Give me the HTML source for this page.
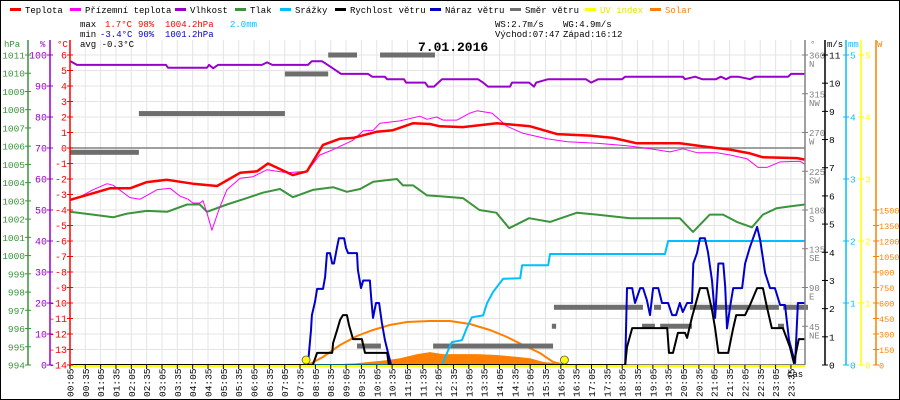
<!DOCTYPE html>
<html><head><meta charset="utf-8"><style>
html,body{margin:0;padding:0;background:#fff;}
svg{display:block;font-family:"Liberation Mono",monospace;}
</style></head><body>
<svg id="chart" width="900" height="400" viewBox="0 0 900 400" xmlns="http://www.w3.org/2000/svg">
<rect x="0.5" y="0.5" width="899" height="399" fill="#fff" stroke="#000"/>
<g id="grid"></g>
<g id="series"></g>
<g id="axes"></g>
<g id="legend" font-size="9"></g>
<g font-size="9">
<text x="80" y="27" fill="#000">max</text><text x="105" y="27" fill="#f00">1.7°C</text><text x="138" y="27" fill="#f00">98%</text><text x="165" y="27" fill="#f00">1004.2hPa</text><text x="230" y="27" fill="#00bfff">2.0mm</text>
<text x="80" y="37" fill="#000">min</text><text x="100" y="37" fill="#00c">-3.4°C</text><text x="138" y="37" fill="#00c">90%</text><text x="165" y="37" fill="#00c">1001.2hPa</text>
<text x="80" y="47" fill="#000">avg -0.3°C</text>
<text x="495" y="27" fill="#000">WS:2.7m/s</text><text x="563" y="27" fill="#000">WG:4.9m/s</text>
<text x="495" y="37" fill="#000">Východ:07:47</text><text x="563" y="37" fill="#000">Západ:16:12</text>
</g>
<text x="418" y="51" font-size="13" font-weight="bold" fill="#000">7.01.2016</text>
</svg>
<script>
// ---- data ----
const tempT=[0.08,1.39,2.04,2.59,3.25,4.09,4.88,5.63,6.18,6.54,7.35,7.81,8.33,8.89,9.31,10.09,10.61,11.27,11.82,12.14,12.89,14.0,15.08,15.96,17.03,17.78,18.56,19.96,20.72,21.6,22.25,22.67,23.78,24.04];
const tempV=[-3.35,-2.6,-2.6,-2.2,-2.05,-2.3,-2.45,-1.6,-1.5,-1.0,-1.75,-1.5,0.2,0.6,0.65,1.05,1.15,1.6,1.55,1.4,1.35,1.6,1.4,0.9,0.8,0.65,0.3,0.3,0.1,-0.1,-0.35,-0.6,-0.65,-0.75];
const appT=[0.08,0.41,0.83,1.29,1.49,2.04,2.37,2.92,3.35,3.67,3.93,4.09,4.32,4.42,4.55,4.71,4.97,5.2,5.63,6.05,6.51,7.16,7.81,8.23,8.66,9.31,9.64,9.97,10.19,10.84,11.49,11.72,12.04,12.24,12.7,13.12,13.35,13.84,14.33,14.85,15.63,16.29,17.26,18.24,18.99,19.64,20.06,20.52,21.17,21.6,22.15,22.51,22.8,23.23,23.88,24.04];
const appV=[-3.35,-3.15,-2.7,-2.3,-2.4,-3.2,-3.3,-2.7,-2.6,-3.1,-3.3,-3.55,-3.55,-3.4,-4.2,-5.3,-3.8,-2.7,-1.95,-1.85,-1.4,-1.6,-1.5,-0.45,-0.1,0.5,1.1,1.15,1.6,1.75,2.05,1.85,2.0,1.8,1.8,2.25,2.4,2.25,1.4,0.95,0.6,0.4,0.3,0.15,-0.05,-0.25,-0.05,-0.3,-0.3,-0.45,-0.7,-1.25,-1.25,-0.9,-0.85,-1.05];
const presT=[0.08,0.83,1.49,1.94,2.59,3.25,3.9,4.32,4.55,5.2,5.85,6.37,6.93,7.35,8.0,8.66,9.11,9.54,9.97,10.74,10.94,11.27,11.72,12.14,12.89,13.43,13.98,14.4,15.05,15.73,16.61,17.26,18.34,19.96,20.39,20.94,21.37,21.82,22.31,22.67,23.12,23.55,24.04];
const presV=[1002.4,1002.25,1002.1,1002.3,1002.45,1002.4,1002.8,1002.8,1002.4,1002.8,1003.15,1003.45,1003.65,1003.2,1003.6,1003.75,1003.5,1003.65,1004.05,1004.2,1003.85,1003.85,1003.3,1003.25,1003.15,1002.5,1002.35,1001.5,1002.05,1001.85,1002.35,1002.25,1002.05,1002.05,1001.3,1002.25,1002.25,1001.85,1001.55,1002.25,1002.6,1002.7,1002.8];
const humT=[0.1,0.31,3.21,3.28,4.55,4.62,4.75,4.91,6.34,6.51,6.68,7.84,7.97,8.3,8.62,8.92,9.8,9.93,10.35,10.42,10.97,11.04,11.66,11.75,11.95,12.21,13.38,13.55,13.71,14.43,14.49,15.05,15.21,15.28,15.67,16.9,17.07,17.3,18.08,18.18,20.06,20.13,20.46,20.69,21.14,21.3,21.47,21.63,21.86,22.25,22.42,23.49,23.59,24.04];
const humV=[98,96.8,96.8,95.9,95.9,96.8,95.7,96.8,96.8,97.6,96.8,96.8,98,98,95.9,93.9,93.9,93,93,92.2,92.2,91.1,91.1,89.8,89.8,92.2,92.2,91.1,89.8,89.8,91.1,91.1,89.8,91.1,92.2,92.2,91.1,92.2,92.2,93,93,92.2,93,92.2,92.2,93,92.2,93,93,92.2,93,93,93.9,93.9];
const gustT=[0.08,7.84,7.94,7.97,8.07,8.14,8.33,8.4,8.46,8.56,8.63,8.69,8.79,8.85,9.02,9.08,9.15,9.44,9.47,9.57,9.64,9.86,9.9,9.96,10.06,10.16,10.25,10.35,10.45,10.55,18.18,18.24,18.41,18.5,18.67,18.76,18.89,18.99,19.09,19.26,19.38,19.58,19.71,19.84,19.96,20.06,20.2,20.36,20.4,20.52,20.62,20.78,20.88,21.01,21.11,21.22,21.38,21.44,21.5,21.6,21.7,21.99,22.09,22.25,22.48,22.58,22.74,22.9,23.06,23.23,23.39,23.52,23.72,23.81,24.04];
const gustV=[0,0,1.24,1.77,2.24,2.7,2.7,3.12,3.97,3.97,3.6,3.6,4.19,4.5,4.5,4.15,3.97,3.97,3.37,2.73,3.0,3.0,2.41,1.67,2.2,2.2,1.49,0.89,0.44,0,0,2.73,2.73,2.2,2.73,2.73,2.3,1.77,2.73,2.73,2.2,2.2,1.77,1.77,2.2,1.88,2.2,2.2,3.6,3.97,4.5,4.5,4.0,3.0,1.67,3.6,3.6,2.77,1.3,2.06,2.73,2.73,3.6,4.19,4.9,4.43,3.27,2.73,2.73,2.13,2.13,0.89,0.07,2.2,2.2];
const windT=[0.08,8.0,8.14,8.63,8.66,8.79,8.89,8.98,9.11,9.18,9.31,9.6,9.7,10.42,10.48,18.18,18.24,18.41,19.55,19.61,19.74,19.9,20.13,20.2,20.36,20.62,20.85,21.01,21.11,21.22,21.54,21.7,21.8,22.09,22.25,22.48,22.67,22.8,22.96,23.32,23.55,23.68,23.84,24.04];
const windV=[0,0,0.43,0.43,0.78,1.24,1.6,1.77,1.77,1.42,0.92,0.92,0.43,0.43,0,0,0.64,1.31,1.31,0.43,0.43,1.14,1.14,0.96,1.7,2.73,2.73,1.95,1.31,0.43,0.43,1.31,1.77,1.77,2.13,2.73,2.73,2.06,1.31,1.31,0.64,0.07,0.92,0.92];
const rainT=[0.08,12.21,12.37,12.53,12.86,13.02,13.18,13.55,13.68,13.88,14.2,14.76,14.82,15.67,15.73,19.48,19.58,24.04];
const rainV=[0,0,0.19,0.37,0.4,0.6,0.77,0.8,1.0,1.18,1.39,1.4,1.61,1.61,1.79,1.79,2.0,2.0];
const solarT=[7.75,8.23,8.89,9.37,9.86,10.35,10.84,11.4,11.82,12.24,12.89,13.35,14.0,14.65,15.08,15.5,15.83,16.05];
const solarV=[0,5,10,15,30,45,65,105,125,105,105,105,97,78,65,30,20,0];
const clearT=[7.84,8.33,8.89,9.44,9.96,10.51,11.07,11.82,12.47,13.12,13.77,14.33,14.85,15.4,15.83,16.22];
const clearV=[0,77,194,281,339,387,416,426,426,397,339,271,194,116,29,0];
const dirStart=[0.08,2.33,7.09,8.5,9.44,10.19,11.92,15.79,15.86,18.73,19.12,19.32,20.29,23.16,23.33];
const dirEnd=[2.33,7.09,8.5,9.44,10.22,11.98,15.83,15.93,18.76,19.15,19.35,20.36,23.19,23.36,24.14];
const dirV=[247,292,338,360,22,360,22,45,67,45,67,45,67,45,67];
const sunEvents=[7.78,16.2];
const timeLabels=[];for(let i=0;i<48;i++){const m=5+30*i;timeLabels.push(String(Math.floor(m/60)).padStart(2,'0')+':'+String(m%60).padStart(2,'0'));}
const hpaTicks=[994,995,996,997,998,999,1000,1001,1002,1003,1004,1005,1006,1007,1008,1009,1010,1011];
const pctTicks=[0,10,20,30,40,50,60,70,80,90,100];
const tempTicks=[-14,-13,-12,-11,-10,-9,-8,-7,-6,-5,-4,-3,-2,-1,0,1,2,3,4,5,6];
const dirTicks=[45,90,135,180,225,270,315,360];
const dirNames=['NE','E','SE','S','SW','W','NW','N'];
const msTicks=[0,1,2,3,4,5,6,7,8,9,10,11];
const mmTicks=[0,1,2,3,4,5];
const wTicks=[0,150,300,450,600,750,900,1050,1200,1350,1500];

// ---- scales ----
const X0=70,X1=805,YT=55,YB=365;
const xs=h=>67.4+h*30.68;
const yT=v=>YB-(v+14)*(YB-YT)/20;
const yP=v=>YB-(v-994)*(YB-YT)/17;
const yH=v=>YB-v*(YB-YT)/100;
const yW=v=>YB-v*(YB-YT)/11;
const yR=v=>YB-v*(YB-YT)/5;
const yS=v=>YB-v*155/1500;
const yD=v=>YB-v*(YB-YT)/360;
const NS='http://www.w3.org/2000/svg';
function mk(tag,attrs,parent,txt){const e=document.createElementNS(NS,tag);for(const k in attrs)e.setAttribute(k,attrs[k]);if(txt!==undefined)e.textContent=txt;parent.appendChild(e);return e;}
const G=document.getElementById('grid'),S=document.getElementById('series'),A=document.getElementById('axes'),L=document.getElementById('legend');

timeLabels.forEach((t,i)=>{const x=xs((5+30*i)/60);const l=mk('line',{x1:x,x2:x,y1:40,y2:YB,stroke:'#e4e4e4'},G);

});
tempTicks.forEach(v=>{const y=yT(v);const l=mk('line',{x1:X0,x2:X1,y1:y,y2:y,stroke:'#e4e4e4'},G);

});
const zl=mk('line',{x1:X0,x2:X1,y1:yT(0),y2:yT(0),stroke:'#808080','stroke-width':1.5},G);



function pts(T,V,yf){return T.map((t,i)=>xs(t).toFixed(1)+','+yf(V[i]).toFixed(1)).join(' ');}
const sa=mk('polygon',{points:pts(solarT,solarV,yS),fill:'#ff8000'},S);


const cs=mk('polyline',{points:pts(clearT,clearV,yS),fill:'none',stroke:'#ff8000','stroke-width':2},S);


dirV.forEach((d,i)=>{const r=mk('rect',{x:xs(dirStart[i]),y:yD(d)-2.5,width:xs(dirEnd[i])-xs(dirStart[i]),height:5,fill:'#6e6e6e'},S);

});
function line(T,V,yf,color,w,name){const p=mk('polyline',{points:pts(T,V,yf),fill:'none',stroke:color,'stroke-width':w,'stroke-linejoin':'round'},S);

}
line(rainT,rainV,yR,'#00bfff',2,'precipitation-line');
line(humT,humV,yH,'#9900cc',2,'humidity-line');
line(presT,presV,yP,'#3a943a',2,'pressure-line');
line(appT,appV,yT,'#ff00ff',1,'apparent-temperature-line');
line(tempT,tempV,yT,'#ff0000',2.5,'temperature-line');
line(gustT,gustV,yW,'#0000cc',2,'wind-gust-line');
line(windT,windV,yW,'#000000',2,'wind-speed-line');
const bl=mk('line',{x1:X0,x2:X1,y1:YB,y2:YB,stroke:'#000','stroke-width':1},S);


const uv=mk('line',{x1:X0,x2:X1,y1:YB+1,y2:YB+1,stroke:'#ffff00','stroke-width':2},S);


sunEvents.forEach(h=>{const c=mk('circle',{cx:xs(h),cy:YB-5,r:4,fill:'#ffff00',stroke:'#555','stroke-width':0.8},S);

});

function vaxis(x,color,name,ticks,yf,lab,side,hdr,hx,fs){
 const a=mk('line',{x1:x,x2:x,y1:40,y2:YB,stroke:color,'stroke-width':1.5},A);
 
 
 ticks.forEach((v,i)=>{const y=yf(v);mk('line',{x1:x-3,x2:x+3,y1:y,y2:y,stroke:color},A);
  const t=mk('text',{x:side<0?x-3:x+4,y:y+3.5,fill:color,'font-size':fs||10,'text-anchor':side<0?'end':'start'},A,lab(v,i));
  
  });
 const h=mk('text',{x:hx,y:47,fill:color,'font-size':9},A,hdr);
 
 
}
vaxis(28,'#3a943a','pressure',hpaTicks,yP,v=>v,-1,'hPa',4,9.5);
vaxis(50,'#9900cc','humidity',pctTicks,yH,v=>v,-1,'%',40,10);
vaxis(70,'#ff0000','temperature',tempTicks,yT,v=>v,-1,'°C',57,10);
vaxis(805,'#808080','direction',dirTicks,yD,v=>v,1,'°',810,9);
dirTicks.forEach((v,i)=>{const t=mk('text',{x:809,y:yD(v)+12,fill:'#808080','font-size':9},A,dirNames[i]);

});
vaxis(825,'#000000','wind-speed',msTicks,yW,v=>v,1,'m/s',827,9.5);
vaxis(846,'#00bfff','precipitation',mmTicks,yR,v=>v,1,'mm',848,9.5);
vaxis(861,'#ffff00','uv',mmTicks,yR,v=>v,1,'',861,9.5);
{const a=mk('line',{x1:876,x2:876,y1:40,y2:YB,stroke:'#ff8000','stroke-width':1.5},A);


wTicks.forEach(v=>{const y=yS(v);mk('line',{x1:873,x2:879,y1:y,y2:y,stroke:'#ff8000'},A);
const t=mk('text',{x:879,y:y+3.5,fill:'#ff8000','font-size':8.5},A,v);

});
const h=mk('text',{x:877,y:47,fill:'#ff8000','font-size':9},A,'W');

}
timeLabels.forEach((t,i)=>{const x=xs((5+30*i)/60);mk('line',{x1:x,x2:x,y1:YB,y2:YB+4,stroke:'#000'},A);
const tx=mk('text',{x:0,y:0,fill:'#000','font-size':9.5,transform:`translate(${x+3.5},397) rotate(-90)`},A,t);

});
const cas=mk('text',{x:787,y:377,fill:'#000','font-size':9},A,'čas');



const legNames=['Teplota','Přízemní teplota','Vlhkost','Tlak','Srážky','Rychlost větru','Náraz větru','Směr větru','UV index','Solar'];
const legColors=['#ff0000','#ff00ff','#9900cc','#3a943a','#00bfff','#000000','#0000cc','#707070','#ffff00','#ff8000'];
const legTextColors=['#000','#000','#000','#000','#000','#000','#000','#000','#e6e600','#ff8000'];
const legX=[25,85,190,250,295,350,445,525,600,665];
legNames.forEach((n,i)=>{const g=mk('g',{},L);


mk('rect',{x:legX[i]-15,y:8,width:11,height:3,fill:legColors[i]},g);
mk('text',{x:legX[i],y:13,fill:legTextColors[i]},g,n);});
</script>
</body></html>
